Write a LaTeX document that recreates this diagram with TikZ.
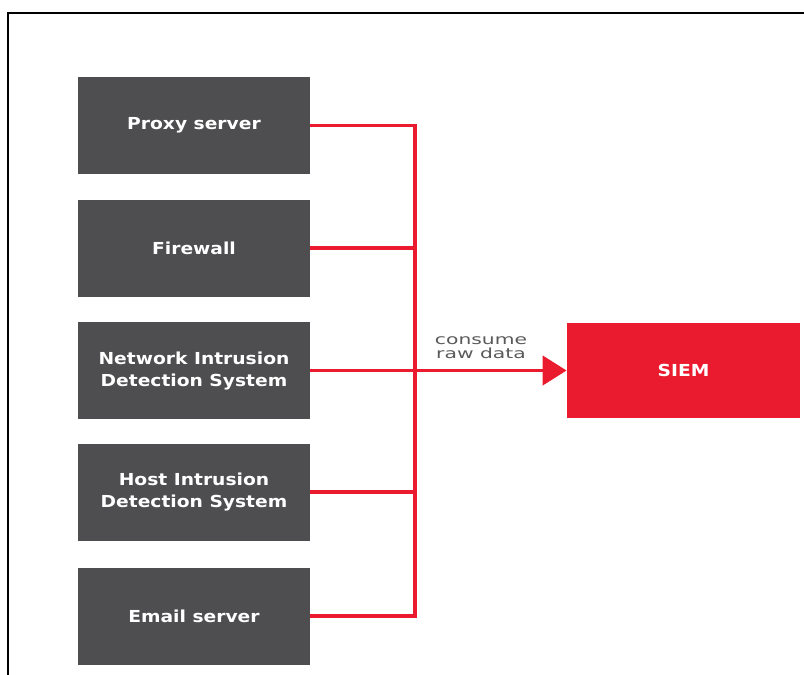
\documentclass[tikz,border=0pt]{standalone}
\usepackage{fontspec}
\setmainfont{DejaVu Sans}
\newfontfamily\boxfont[FakeStretch=1.13]{DejaVu Sans}
\newfontfamily\notefont[FakeStretch=1.45]{DejaVu Sans}
\usetikzlibrary{arrows.meta}
\definecolor{boxgray}{RGB}{78,78,80}
\definecolor{siemred}{RGB}{234,27,46}
\definecolor{notegray}{RGB}{90,90,92}
\begin{document}
\begin{tikzpicture}[x=0.75pt,y=0.75pt,yscale=-1,xscale=1,
	srcbox/.style={fill=boxgray, minimum width=174pt, minimum height=72.75pt, inner sep=0pt, text=white, align=center, font=\boxfont\bfseries\fontsize{12.4}{16.5}\selectfont},
	siembox/.style={fill=siemred, minimum width=175pt, minimum height=71.25pt, inner sep=0pt, text=white, font=\boxfont\bfseries\fontsize{12.4}{16.5}\selectfont},
	feed/.style={draw=siemred, line width=2.6pt}]
	\useasboundingbox (0,0) rectangle (804,675);
	\draw [line width=1.5pt]   (804,12.5) -- (7.5,12.5) -- (7.5,675) ;
	% sources
	\node [srcbox] (proxy) at (194,125.5) {Proxy server};
	\node [srcbox] (firewall) at (194,248) {Firewall};
	\node [srcbox] (nids) at (194,370.5) {Network Intrusion\\Detection System};
	\node [srcbox] (hids) at (194,492) {Host Intrusion\\Detection System};
	\node [srcbox] (email) at (194,616) {Email server};
	\node [siembox] (siem) at (683.5,370.5) {SIEM};
	\coordinate (bus) at (415,370.5);
	% red feed lines
	\draw [feed]   (proxy.east) -| (bus) ;
	\draw [feed]   (email.east) -| (bus) ;
	\draw [feed]   (firewall.east) -- (firewall.east -| bus) ;
	\draw [feed]   (hids.east) -- (hids.east -| bus) ;
	\draw [feed, -{Triangle[length=18pt,width=22pt]}]   (nids.east) -- (siem.west) ;
	\node [text=notegray, align=center, inner sep=0pt, font=\notefont\fontsize{10.5}{10.5}\selectfont] (note) at (481,347.5) {consume\\raw data};
\end{tikzpicture}
\end{document}
